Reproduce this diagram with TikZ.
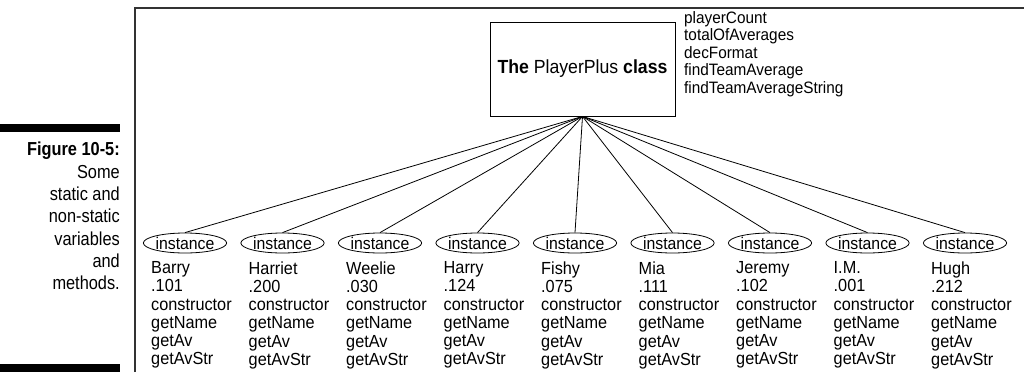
\documentclass[tikz,border=0pt]{standalone}
\usepackage{fontspec}
\setmainfont{Liberation Sans}[FakeStretch=0.93]
\newfontfamily\captionfont{Liberation Sans}[FakeStretch=0.87]
\usetikzlibrary{shapes.geometric}

\begin{document}
\begin{tikzpicture}[x=1pt, y=-1pt,
  classbox/.style={rectangle, draw, line width=0.9pt, minimum width=185pt, minimum height=94pt,
                   inner sep=0pt, font=\fontsize{19}{22}\selectfont},
  inst/.style={ellipse, draw, line width=0.8pt, minimum width=70pt, minimum height=20pt,
               inner sep=0pt, font=\fontsize{17}{18}\selectfont},
  members/.style={anchor=north west, align=left, inner sep=0pt, font=\fontsize{17.5}{18.2}\selectfont},
  statics/.style={anchor=north west, align=left, inner sep=0pt, font=\fontsize{16.5}{17.6}\selectfont},
  caption/.style={anchor=north east, align=right, inner sep=0pt,
                  font=\captionfont\fontsize{18.8}{22.3}\selectfont},
  bar/.style={fill=black},
  link/.style={line width=0.8pt}
]
  \useasboundingbox (0,0) rectangle (1024,372);

  % Cadre
  \draw[line width=1.2pt, black!80] (135,372) -- (135,8) -- (1024,8);

  % Legende
  \fill[bar] (0,124) rectangle (120,132);
  \fill[bar] (0,364) rectangle (120,372);
  \node[caption] (cap) at (120,142) {\textbf{Figure 10-5:}\\Some\\static and\\non-static\\variables\\and\\methods.};

  % Classe
  \node[classbox] (cls) at (582.5,69) {\textbf{The} PlayerPlus \textbf{class}};
  \node[statics] (vars) at (684,11)
    {playerCount\\totalOfAverages\\decFormat\\findTeamAverage\\findTeamAverageString};

  % Instances
  \foreach \name/\avg [count=\i from 0] in {Barry/.101, Harriet/.200, Weelie/.030, Harry/.124,
      Fishy/.075, Mia/.111, Jeremy/.102, I.M./.001, Hugh/.212}{
    \node[inst] (inst\i) at (185+97.5*\i,243) {instance};
    \node[members] (info\i) at (151+97.5*\i,261.5)
      {\name\\\avg\\constructor\\getName\\getAv\\getAvStr};
    \draw[link] (cls.south) -- (inst\i.north);
  }
\end{tikzpicture}
\end{document}
